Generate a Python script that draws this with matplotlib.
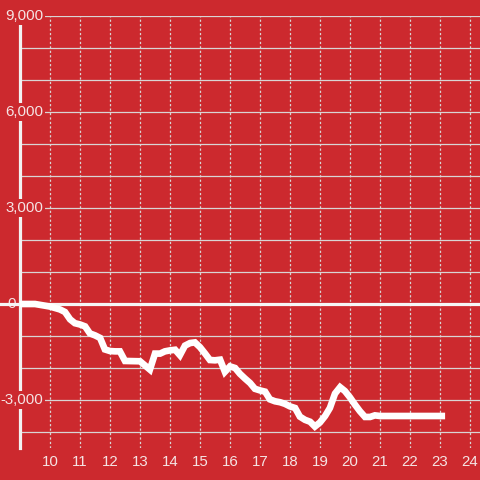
import matplotlib
matplotlib.use("Agg")
import matplotlib.pyplot as plt

plt.rcParams['font.family'] = ['Liberation Sans', 'DejaVu Sans']
plt.rcParams['lines.scale_dashes'] = False

# ---- data ----
hours = [9.0, 9.5, 10.0, 10.33, 10.5, 10.67, 10.83, 11.0, 11.17, 11.33, 11.5, 11.67,
         11.83, 12.0, 12.17, 12.33, 12.5, 13.0, 13.33, 13.5, 13.67, 13.83, 14.0, 14.17,
         14.33, 14.5, 14.67, 14.83, 15.0, 15.17, 15.33, 15.5, 15.67, 15.83, 16.0, 16.17,
         16.33, 16.5, 16.67, 16.83, 17.0, 17.17, 17.33, 17.5, 17.67, 17.83, 18.0, 18.17,
         18.33, 18.5, 18.67, 18.83, 19.0, 19.17, 19.33, 19.5, 19.67, 19.83, 20.0, 20.17,
         20.33, 20.5, 20.67, 20.83, 21.0, 22.0, 23.17]
values = [0, 0, -80, -170, -250, -480, -600, -640, -700, -920, -980, -1060,
          -1420, -1470, -1480, -1480, -1780, -1790, -2050, -1550, -1550, -1480, -1450, -1430,
          -1600, -1300, -1220, -1200, -1350, -1550, -1750, -1760, -1740, -2120, -1950, -2000,
          -2180, -2330, -2470, -2650, -2700, -2740, -2980, -3040, -3070, -3120, -3200, -3250,
          -3520, -3620, -3680, -3830, -3700, -3500, -3250, -2800, -2600, -2720, -2920, -3150,
          -3350, -3530, -3530, -3480, -3500, -3500, -3500]
x_ticks = list(range(10, 25))
y_ticks = [9000, 8000, 7000, 6000, 5000, 4000, 3000, 2000, 1000, 0, -1000, -2000, -3000, -4000]
y_labeled = [9000, 6000, 3000, 0, -3000]

BG = '#cc292e'
TXT = '#f5e4e4'
GRID = '#d9d4d4'

fig = plt.figure(figsize=(4.8, 4.8), dpi=100, facecolor=BG)
W = H = 480.0
ax = fig.add_axes([20 / W, (H - 448) / H, 460 / W, (448 - 16) / H])
ax.set_facecolor(BG)
ax.set_xlim(9, 24 + 1 / 3)
ax.set_ylim(-4500, 9000)

for s in ['top', 'right', 'bottom']:
    ax.spines[s].set_visible(False)
ax.spines['left'].set_color('#f2f2f2')
ax.spines['left'].set_linewidth(2.3)
ax.spines['left'].set_zorder(1)

# grid
for v in y_ticks:
    if v == 0:
        continue
    ax.axhline(v, color=GRID, lw=0.9, zorder=0.5)
for xv in x_ticks:
    ax.axvline(xv, color=GRID, lw=0.9, dashes=(1.6, 1.6), zorder=0.5)

# zero line
ax.plot([-0.1, 1], [0, 0], transform=ax.get_yaxis_transform(), color='#f5f5f5',
        lw=2.3, zorder=3, clip_on=False, solid_capstyle='butt')

# data line
ax.plot(hours, values, color='white', lw=4.8, zorder=4, solid_joinstyle='miter',
        solid_capstyle='butt')

# x tick labels
ax.set_xticks(x_ticks)
ax.set_xticklabels([str(t) for t in x_ticks], color=TXT, fontsize=10.8)
ax.tick_params(axis='x', length=0, pad=5)
ax.set_yticks([])

# y labels with background boxes
from matplotlib.transforms import blended_transform_factory, offset_copy
for v in y_labeled:
    lab = f"{v:,}".replace('-', '-')
    if v == 0:
        xp = 16 / W
    else:
        xp = 43 / W
    trans = blended_transform_factory(fig.transFigure, ax.transData)
    ax.text(xp, v, lab, transform=trans, ha='right', va='center', color=TXT,
            fontsize=10.8, zorder=2,
            bbox=dict(boxstyle='square,pad=0.15', fc=BG, ec='none'))

fig.savefig('out.png', dpi=100, facecolor=BG)
